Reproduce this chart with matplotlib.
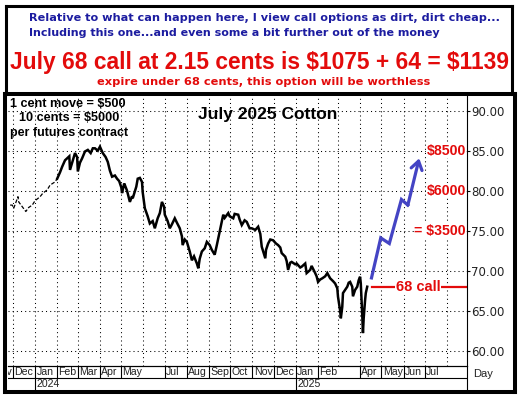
import matplotlib
matplotlib.use("Agg")
import matplotlib.pyplot as plt
import matplotlib.dates as mdates
import matplotlib.transforms as mtransforms
from matplotlib.lines import Line2D
import pandas as pd

# ---------------- data ----------------
price_dates = [
    "2023-11-27", "2023-11-30", "2023-12-02", "2023-12-08", "2023-12-09", "2023-12-14",
    "2023-12-19", "2023-12-23", "2023-12-28", "2024-01-01", "2024-01-08", "2024-01-12",
    "2024-01-18", "2024-01-22", "2024-01-29", "2024-02-01", "2024-02-05", "2024-02-08",
    "2024-02-12", "2024-02-15", "2024-02-18", "2024-02-19", "2024-02-22", "2024-02-26",
    "2024-02-29", "2024-03-01", "2024-03-04", "2024-03-07", "2024-03-11", "2024-03-15",
    "2024-03-19", "2024-03-22", "2024-03-25", "2024-03-29", "2024-04-01", "2024-04-05",
    "2024-04-09", "2024-04-12", "2024-04-15", "2024-04-18", "2024-04-22", "2024-04-25",
    "2024-04-28", "2024-05-01", "2024-05-02", "2024-05-05", "2024-05-06", "2024-05-09",
    "2024-05-13", "2024-05-16", "2024-05-17", "2024-05-22", "2024-05-24", "2024-05-27",
    "2024-05-30", "2024-05-31", "2024-06-03", "2024-06-07", "2024-06-10", "2024-06-14",
    "2024-06-17", "2024-06-21", "2024-06-24", "2024-06-27", "2024-06-30", "2024-07-01",
    "2024-07-05", "2024-07-08", "2024-07-11", "2024-07-15", "2024-07-18", "2024-07-22",
    "2024-07-25", "2024-07-26", "2024-07-29", "2024-08-01", "2024-08-05", "2024-08-08",
    "2024-08-11", "2024-08-15", "2024-08-17", "2024-08-19", "2024-08-22", "2024-08-26",
    "2024-08-29", "2024-09-02", "2024-09-05", "2024-09-09", "2024-09-12", "2024-09-16",
    "2024-09-19", "2024-09-21", "2024-09-23", "2024-09-28", "2024-09-30", "2024-10-05",
    "2024-10-07", "2024-10-12", "2024-10-14", "2024-10-17", "2024-10-21", "2024-10-24",
    "2024-10-28", "2024-10-31", "2024-11-05", "2024-11-09", "2024-11-12", "2024-11-14",
    "2024-11-19", "2024-11-20", "2024-11-23", "2024-11-26", "2024-11-30", "2024-12-04",
    "2024-12-07", "2024-12-10", "2024-12-12", "2024-12-17", "2024-12-19", "2024-12-21",
    "2024-12-24", "2024-12-26", "2024-12-31", "2025-01-02", "2025-01-07", "2025-01-09",
    "2025-01-14", "2025-01-16", "2025-01-21", "2025-01-23", "2025-01-28", "2025-01-30",
    "2025-02-01", "2025-02-04", "2025-02-07", "2025-02-11", "2025-02-14", "2025-02-18",
    "2025-02-22", "2025-02-25", "2025-02-28", "2025-03-01", "2025-03-04", "2025-03-05",
    "2025-03-07", "2025-03-08", "2025-03-11", "2025-03-14", "2025-03-16", "2025-03-18",
    "2025-03-21", "2025-03-22", "2025-03-25", "2025-03-28", "2025-03-30", "2025-04-01",
    "2025-04-02", "2025-04-04", "2025-04-05", "2025-04-06", "2025-04-08", "2025-04-09",
    "2025-04-11",
]
price_values = [
    78.2, 78.2, 77.8, 79.25, 78.6, 78.0,
    77.4, 77.9, 78.2, 78.75, 79.25, 79.7,
    80.1, 80.7, 81.1, 81.5, 82.3, 83.0,
    83.8, 84.05, 84.3, 82.6, 83.5, 84.7,
    84.2, 82.4, 83.5, 84.05, 84.9, 85.1,
    84.7, 85.3, 85.3, 85.0, 85.5, 84.7,
    84.2, 83.6, 82.5, 81.75, 81.9, 81.5,
    81.2, 80.4, 79.7, 80.9, 80.7, 80.0,
    78.6, 79.3, 79.05, 80.5, 81.5, 81.6,
    81.1, 79.8, 77.8, 76.8, 75.9, 76.2,
    75.3, 76.55, 77.2, 78.6, 78.0, 77.0,
    76.2, 75.3, 75.8, 76.55, 76.0, 75.3,
    74.3, 73.2, 73.9, 73.6, 72.4, 71.3,
    71.8, 70.9, 70.3, 71.5, 72.4, 72.8,
    73.6, 73.2, 72.6, 72.0, 73.2, 74.9,
    76.2, 77.0, 76.6, 77.2, 76.8, 76.55,
    77.1, 77.0, 76.4, 75.7, 76.3, 76.1,
    75.3, 75.3, 75.1, 75.5, 74.6, 73.0,
    71.55, 72.6, 73.4, 73.9, 73.8, 73.4,
    73.2, 72.9, 72.2, 71.75, 71.2, 70.1,
    71.0, 71.1, 70.8, 70.9, 70.4, 70.5,
    70.9, 69.7, 70.1, 70.6, 69.7, 69.3,
    68.6, 68.9, 69.05, 69.3, 69.7, 69.05,
    68.7, 68.4, 67.8, 66.75, 65.0, 64.05,
    65.5, 67.2, 67.6, 68.0, 68.5, 68.6,
    68.0, 66.8, 67.6, 68.0, 68.8, 69.25,
    68.4, 64.5, 62.2, 64.0, 66.3, 67.2,
    68.0,
]
thin_until = "2024-02-01"          # early, thinly traded part

proj_dates = ["2025-04-17", "2025-04-30", "2025-05-12", "2025-05-29", "2025-06-07", "2025-06-23"]
proj_values = [69.1, 74.1, 73.4, 78.9, 78.2, 84.05]

call_start = "2025-04-18"
strike = 68.0
strike_label = "68 call"

payoff_labels = ["$8500", "$6000", "= $3500"]
payoff_levels = [85.0, 80.0, 75.0]

y_ticks = [60, 65, 70, 75, 80, 85, 90]

month_label_dates = ["2023-11-01", "2023-12-01", "2024-01-01", "2024-02-01", "2024-03-01",
                     "2024-04-01", "2024-05-01", "2024-07-01", "2024-08-01", "2024-09-01",
                     "2024-10-01", "2024-11-01", "2024-12-01", "2025-01-01", "2025-02-01",
                     "2025-04-01", "2025-05-01", "2025-06-01", "2025-07-01"]
month_labels = ["Nov", "Dec", "Jan", "Feb", "Mar", "Apr", "May", "Jul", "Aug", "Sep",
                "Oct", "Nov", "Dec", "Jan", "Feb", "Apr", "May", "Jun", "Jul"]
year_label_dates = ["2024-01-01", "2025-01-01"]
year_labels = ["2024", "2025"]

header_lines = [
    "Relative to what can happen here, I view call options as dirt, dirt cheap...",
    "Including this one...and even some a bit further out of the money",
    "July 68 call at 2.15 cents is $1075 + 64 = $1139",
    "expire under 68 cents, this option will be worthless",
]
notes = ["1 cent move = $500", "10 cents = $5000", "per futures contract"]
chart_title = "July 2025 Cotton"

# ---------------- figure ----------------
W, H, DPI = 522, 399, 100
BLUE_TXT = "#1c1ca0"
RED = "#e30b0b"
ARROW = "#4444c4"

fig = plt.figure(figsize=(W / DPI, H / DPI), dpi=DPI)
fig.patch.set_facecolor("white")
renderer = fig.canvas.get_renderer()


def fx(px):
    return px / W


def fy(py):
    return 1 - py / H


def fit_text(s, x0, x1, yc, **kw):
    t = fig.text(fx(x0), fy(yc), s, ha="left", va="center", fontsize=10,
                 parse_math=False, **kw)
    w = t.get_window_extent(renderer).width
    t.set_fontsize(10 * (x1 - x0) / w)
    return t


AX_L, AX_R, AX_T, AX_B, LAB_B = 8, 467, 95, 366, 390
ax = fig.add_axes([fx(AX_L), fy(AX_B), (AX_R - AX_L) / W, (AX_B - AX_T) / H])

pdates = pd.to_datetime(price_dates)
pvals = pd.Series(price_values, index=pdates)
cut = pd.Timestamp(thin_until)
early = pvals[pvals.index <= cut]
late = pvals[pvals.index >= cut]
ax.plot(early.index, early.values, color="black", lw=0.9, ls=(0, (3, 1.5)))
ax.plot(late.index, late.values, color="black", lw=1.8, solid_joinstyle="miter")

xmin, xmax = pd.Timestamp("2023-11-24"), pd.Timestamp("2025-08-29")
ax.set_xlim(xmin, xmax)
ax.set_ylim(58.09, 91.96)

# projection arrow
pj_d = pd.to_datetime(proj_dates)
ax.plot(pj_d[:-1], proj_values[:-1], color=ARROW, lw=2.3, solid_joinstyle="miter")
ax.annotate("", xy=(pj_d[-1], proj_values[-1]), xytext=(pj_d[-2], proj_values[-2]),
            arrowprops=dict(arrowstyle="->,head_length=0.6,head_width=0.4",
                            color=ARROW, lw=2.3, shrinkA=0, shrinkB=0))

# strike line
ax.plot([pd.Timestamp(call_start), xmax], [strike, strike], color=RED, lw=1.6)
blend = mtransforms.blended_transform_factory(ax.transAxes, ax.transData)
ax.text((418 - AX_L) / (AX_R - AX_L), strike, strike_label, transform=blend,
        ha="center", va="center", color=RED, fontsize=10.5, fontweight="bold",
        family="Liberation Sans", parse_math=False,
        bbox=dict(facecolor="white", edgecolor="none", pad=0.6))

# payoff labels
for lab, lev in zip(payoff_labels, payoff_levels):
    ax.text((466 - AX_L) / (AX_R - AX_L), lev, lab, transform=blend, ha="right",
            va="center", color=RED, fontsize=10.2, fontweight="bold",
            family="Liberation Sans", parse_math=False,
            bbox=dict(facecolor="white", edgecolor="none", pad=0.3))

# grid / axes styling
ax.xaxis.set_major_locator(mdates.MonthLocator())
ax.tick_params(axis="x", length=0, labelbottom=False)
ax.yaxis.tick_right()
ax.set_yticks(y_ticks)
ax.set_yticklabels([f"{v:.2f}" for v in y_ticks])
ax.tick_params(axis="y", length=2, width=0.8, pad=1, labelsize=8.5,
               labelcolor="#222222", colors="black")
for lbl in ax.get_yticklabels():
    lbl.set_family("DejaVu Sans")
ax.grid(True, color="black", lw=0.75, ls=(0, (1, 3)))
ax.set_axisbelow(True)
for s in ("left", "top"):
    ax.spines[s].set_visible(False)
for s in ("right", "bottom"):
    ax.spines[s].set_linewidth(0.8)

# month / year label strip
lax = fig.add_axes([fx(AX_L), fy(LAB_B), (AX_R - AX_L) / W, (LAB_B - AX_B) / H])
lax.set_xlim(xmin, xmax)
lax.set_ylim(0, 2)
lax.set_xticks([])
lax.set_yticks([])
lax.patch.set_alpha(0)
for s in ("left", "bottom"):
    lax.spines[s].set_visible(False)
for s in ("top", "right"):
    lax.spines[s].set_linewidth(0.8)
lax.axhline(1, color="black", lw=0.8)
md = pd.to_datetime(month_label_dates)
lax.vlines(md, 1, 2, color="black", lw=0.8)
for d, lab in zip(md, month_labels):
    t = lax.annotate(lab, xy=(d, 1.5), xytext=(0.9, 0), textcoords="offset points",
                     ha="left", va="center", fontsize=7.6, family="Liberation Sans",
                     color="#222222", annotation_clip=False)
    t.set_clip_on(True)
    t.set_clip_box(lax.bbox)
yd = pd.to_datetime(year_label_dates)
lax.vlines(yd, 0, 1, color="black", lw=0.8)
for d, lab in zip(yd, year_labels):
    lax.annotate(lab, xy=(d, 0.5), xytext=(0.9, 0), textcoords="offset points",
                 ha="left", va="center", fontsize=7.6, family="Liberation Sans",
                 color="#222222", annotation_clip=False)
fig.text(fx(473), fy(374), "Day", ha="left", va="center", fontsize=8,
         family="Liberation Sans", color="#222222")

# header texts
fit_text(header_lines[0], 29, 497, 18.3, color=BLUE_TXT, fontweight="bold", family="DejaVu Sans")
fit_text(header_lines[1], 29, 442, 33.3, color=BLUE_TXT, fontweight="bold", family="DejaVu Sans")
fit_text(header_lines[2], 9.5, 508, 62.5, color=RED, fontweight="bold", family="Liberation Sans")
fit_text(header_lines[3], 96.7, 428, 82, color=RED, fontweight="bold", family="DejaVu Sans")

# notes and chart title
fit_text(notes[0], 10, 126, 104, color="black", fontweight="bold", family="Liberation Sans")
fit_text(notes[1], 18.7, 118.7, 118.3, color="black", fontweight="bold", family="Liberation Sans")
fit_text(notes[2], 10, 128.5, 132.7, color="black", fontweight="bold", family="Liberation Sans")
fit_text(chart_title, 198, 337, 115, color="black", fontweight="bold", family="Liberation Sans")


# outer frames
def fline(x0, y0, x1, y1, lw):
    fig.add_artist(Line2D([fx(x0), fx(x1)], [fy(y0), fy(y1)], color="black", lw=lw,
                          transform=fig.transFigure, solid_capstyle="projecting"))


# header box
fline(5.5, 5.5, 511.5, 5.5, 2.2)
fline(5.5, 5.5, 5.5, 93.5, 2.2)
fline(511.5, 5.5, 511.5, 93.5, 2.2)
# chart box
fline(5, 93.5, 515, 93.5, 2.9)
fline(5, 93.5, 5, 392, 2.9)
fline(515, 93.5, 515, 392, 2.9)
fline(5, 392, 515, 392, 2.9)

fig.savefig("out.png", dpi=DPI, facecolor="white")
